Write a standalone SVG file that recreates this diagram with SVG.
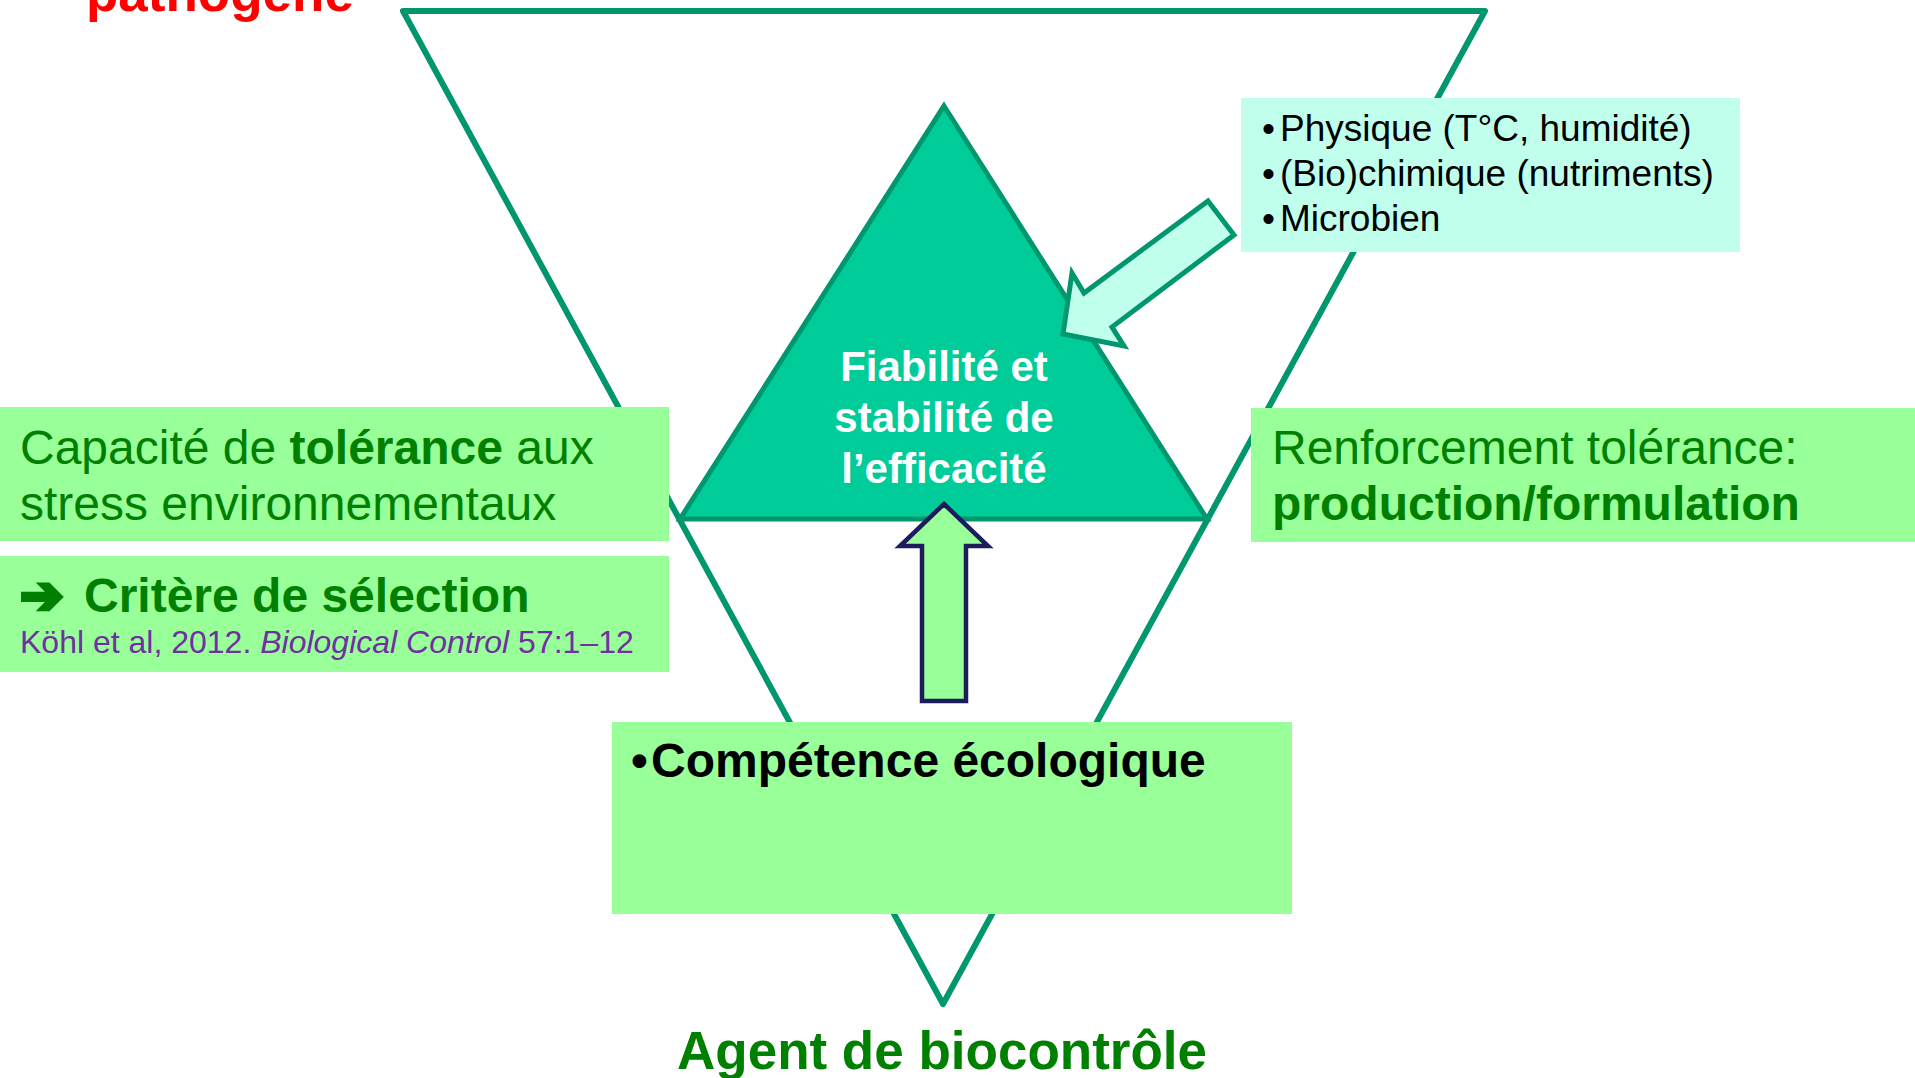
<svg xmlns="http://www.w3.org/2000/svg" width="1915" height="1078" viewBox="0 0 1915 1078">
<style>
text{font-family:"Liberation Sans",Arial,sans-serif}
.b{font-weight:bold}
.g{fill:#008000}
.box{fill:#99FF99}
.teal{fill:#C0FFEC}
.frame{fill:none;stroke:#00966E;stroke-width:6;stroke-linejoin:round}
</style>
<rect width="1915" height="1078" fill="#FFFFFF"/>
<g id="title-pathogene">
<text x="86" y="11" class="b" font-size="53" fill="#FF0000">pathogène</text>
</g>
<g id="outer-triangle">
<polygon class="frame" points="403,11 1485,11 943,1004"/>
</g>
<g id="inner-triangle">
<polygon points="944,106 1207,519 680,519" fill="#00CC99" stroke="#00966E" stroke-width="5" stroke-linejoin="miter"/>
<text class="b" font-size="42" fill="#FFFFFF" text-anchor="middle"><tspan x="944" y="381">Fiabilité et</tspan><tspan x="944" y="432">stabilité de</tspan><tspan x="944" y="483">l’efficacité</tspan></text>
</g>
<g id="factors-box">
<rect class="teal" x="1241" y="98" width="499" height="154"/>
<g font-size="37" fill="#000000">
<text x="1262" y="141">•</text><text x="1280" y="141">Physique (T°C, humidité)</text>
<text x="1262" y="186">•</text><text x="1280" y="186">(Bio)chimique (nutriments)</text>
<text x="1262" y="231">•</text><text x="1280" y="231">Microbien</text>
</g>
</g>
<g id="tolerance-box">
<rect class="box" x="0" y="407" width="669" height="134"/>
<text class="g" font-size="48"><tspan x="20" y="464">Capacité de <tspan class="b">tolérance</tspan> aux</tspan><tspan x="20" y="520">stress environnementaux</tspan></text>
</g>
<g id="selection-box">
<rect class="box" x="0" y="556" width="669" height="116"/>
<text x="20" y="613" font-size="52" fill="#008000" stroke="#008000" stroke-width="4" stroke-linejoin="miter" style="font-family:'DejaVu Sans',sans-serif;font-weight:bold">➔</text>
<text x="84" y="612" class="b g" font-size="48">Critère de sélection</text>
<text x="20" y="653" font-size="32" fill="#7030A0">Köhl et al, 2012. <tspan font-style="italic">Biological Control</tspan> 57:1–12</text>
</g>
<g id="reinforcement-box">
<rect class="box" x="1251" y="408" width="664" height="134"/>
<text class="g" font-size="48"><tspan x="1272" y="464">Renforcement tolérance:</tspan><tspan x="1272" y="520" class="b">production/formulation</tspan></text>
</g>
<g id="competence-box">
<rect class="box" x="612" y="722" width="680" height="192"/>
<text x="631" y="777" class="b" font-size="48" fill="#000000">•</text>
<text x="651" y="777" class="b" font-size="48" fill="#000000">Compétence écologique</text>
</g>
<g id="connectors">
<polygon points="1208,201 1234,235 1112,327 1124,346 1063,334 1072,273 1084,293" fill="#C0FFEC" stroke="#00966E" stroke-width="5" stroke-linejoin="miter"/>
<polygon points="944,504 988,546 966,546 966,701 922,701 922,546 900,546" fill="#99FF99" stroke="#1C1C5C" stroke-width="4.5" stroke-linejoin="miter"/>
</g>
<g id="title-agent">
<text x="942" y="1069" class="b g" font-size="53" text-anchor="middle">Agent de biocontrôle</text>
</g>
</svg>
